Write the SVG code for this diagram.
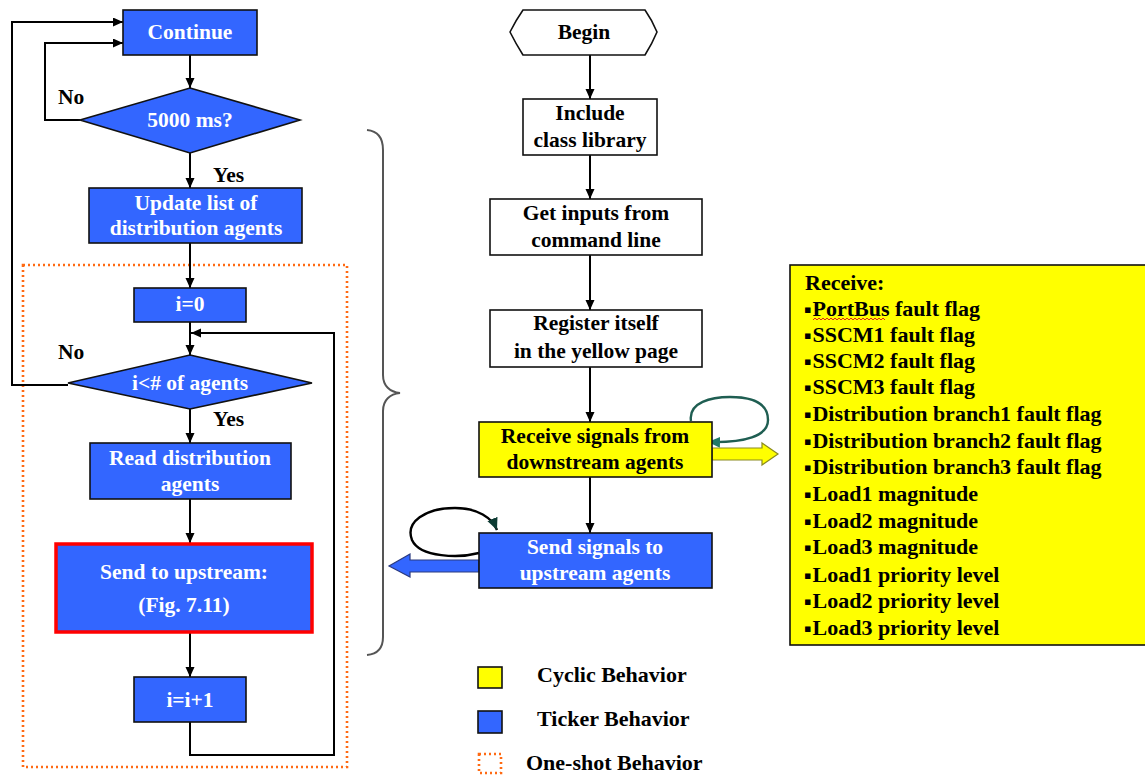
<svg xmlns="http://www.w3.org/2000/svg" width="1145" height="778" viewBox="0 0 1145 778">
  <defs>
    <style>
      .t { font-family: "Liberation Serif", "Times New Roman", serif; font-weight: bold; font-size: 21.5px; text-anchor: middle; fill: #000; }
      .tl { text-anchor: start; }
      .lg { font-size: 22px; }
      .w { fill: #fff; }
      .bul { font-family: "DejaVu Sans", sans-serif; font-size: 11px; }
      .blue { fill: #3366ff; stroke: #111; stroke-width: 1.6; }
      .plain { fill: #fff; stroke: #111; stroke-width: 1.6; }
      .yel { fill: #ffff00; stroke: #111; stroke-width: 1.6; }
      .ln { fill: none; stroke: #000; stroke-width: 2; }
      .dots { fill: none; stroke: #ff6a13; stroke-width: 2.6; stroke-dasharray: 2 3; }
    </style>
    <marker id="arr" markerUnits="userSpaceOnUse" markerWidth="11" markerHeight="10" refX="10" refY="4.5" orient="auto">
      <path d="M0,0 L10,4.5 L0,9 z" fill="#000"/>
    </marker>
    <marker id="arrTeal" markerUnits="userSpaceOnUse" markerWidth="14" markerHeight="12" refX="12" refY="5.5" orient="auto">
      <path d="M0,0 L12,5.5 L0,11 z" fill="#1f7a68"/>
    </marker>
    <marker id="arrDark" markerUnits="userSpaceOnUse" markerWidth="14" markerHeight="12" refX="12" refY="5.5" orient="auto">
      <path d="M0,0 L12,5.5 L0,11 z" fill="#0d3b33"/>
    </marker>
  </defs>

  <rect width="1145" height="778" fill="#fff"/>

  <!-- one-shot region -->
  <rect id="oneshot" class="dots" x="23" y="265" width="324" height="502"/>

  <!-- connectors -->
  <g id="connectors">
    <path class="ln" d="M190,55 V88" marker-end="url(#arr)"/>
    <path class="ln" d="M190,153 V188" marker-end="url(#arr)"/>
    <path class="ln" d="M190,243 V288" marker-end="url(#arr)"/>
    <path class="ln" d="M190,322 V355" marker-end="url(#arr)"/>
    <path class="ln" d="M190,409 V443" marker-end="url(#arr)"/>
    <path class="ln" d="M190,499 V543" marker-end="url(#arr)"/>
    <path class="ln" d="M190,633 V677" marker-end="url(#arr)"/>
    <path class="ln" d="M190,722 V755 H334 V333 H191" marker-end="url(#arr)"/>
    <path class="ln" d="M80,120 H45 V43 H123" marker-end="url(#arr)"/>
    <path class="ln" d="M68,385 H12 V22 H123" marker-end="url(#arr)"/>

    <path class="ln" d="M590,55 V99" marker-end="url(#arr)"/>
    <path class="ln" d="M590,155 V199" marker-end="url(#arr)"/>
    <path class="ln" d="M590,255 V310" marker-end="url(#arr)"/>
    <path class="ln" d="M590,367 V422" marker-end="url(#arr)"/>
    <path class="ln" d="M590,477 V533" marker-end="url(#arr)"/>

    <!-- cyclic self-loop -->
    <path d="M691,421 C688,402 712,397 730,397 C755,397 768,405 768,420 C768,436 745,443 708,442" fill="none" stroke="#1f5e52" stroke-width="2.4" marker-end="url(#arrTeal)"/>
    <!-- ticker self-loop -->
    <path d="M479,553 C460,558 420,558 412,540 C405,522 425,508 455,508 C478,508 492,518 497,530" fill="none" stroke="#000" stroke-width="2.4" marker-end="url(#arrDark)"/>

    <!-- output arrows -->
    <path d="M712,448 H762 V443 L778,454 L762,465 V460 H712 z" fill="#ffff00" stroke="#8a8a20" stroke-width="1.2"/>
    <path d="M479,560 H410 V554 L389,566 L410,577 V572 H479 z" fill="#3366ff" stroke="#2a3a80" stroke-width="1.2"/>
  </g>

  <!-- brace -->
  <path id="brace" d="M367,130 C378,131 383,138 383,150 V375 C383,386 390,392 400,393 C390,394 383,400 383,411 V637 C383,648 378,654 367,655" fill="none" stroke="#555" stroke-width="2"/>

  <!-- left flow -->
  <g id="n-continue">
    <rect class="blue" x="123" y="10" width="134" height="45"/>
    <text class="t w" x="190" y="39">Continue</text>
  </g>
  <g id="n-5000">
    <polygon class="blue" points="190,88 300,120 190,153 80,120"/>
    <text class="t w" x="190" y="127">5000 ms?</text>
  </g>
  <g id="n-update">
    <rect class="blue" x="89" y="188" width="213" height="55"/>
    <text class="t w" x="196" y="210">Update list of</text>
    <text class="t w" x="196" y="235">distribution agents</text>
  </g>
  <g id="n-i0">
    <rect class="blue" x="134" y="288" width="112" height="34"/>
    <text class="t w" x="190" y="311">i=0</text>
  </g>
  <g id="n-cond">
    <polygon class="blue" points="190,355 312,383 190,409 68,383"/>
    <text class="t w" x="190" y="390">i&lt;# of agents</text>
  </g>
  <g id="n-read">
    <rect class="blue" x="90" y="443" width="201" height="56"/>
    <text class="t w" x="190" y="465">Read distribution</text>
    <text class="t w" x="190" y="491">agents</text>
  </g>
  <g id="n-send">
    <rect x="56" y="544" width="256" height="88" fill="#3366ff" stroke="#ff0000" stroke-width="3.5"/>
    <text class="t w" x="184" y="579">Send to upstream:</text>
    <text class="t w" x="184" y="612">(Fig. 7.11)</text>
  </g>
  <g id="n-inc">
    <rect class="blue" x="134" y="677" width="112" height="45"/>
    <text class="t w" x="190" y="707">i=i+1</text>
  </g>

  <g id="labels">
    <text class="t tl" x="58" y="104">No</text>
    <text class="t tl" x="213" y="182">Yes</text>
    <text class="t tl" x="58" y="359">No</text>
    <text class="t tl" x="213" y="426">Yes</text>
  </g>

  <!-- right flow -->
  <g id="n-begin">
    <path class="plain" d="M523,10 H645 Q652,20 657,32 Q652,44 645,55 H523 Q516,44 510,32 Q516,20 523,10 z"/>
    <text class="t" x="584" y="39">Begin</text>
  </g>
  <g id="n-include">
    <rect class="plain" x="523" y="99" width="134" height="56"/>
    <text class="t" x="590" y="120">Include</text>
    <text class="t" x="590" y="147">class library</text>
  </g>
  <g id="n-inputs">
    <rect class="plain" x="490" y="199" width="212" height="56"/>
    <text class="t" x="596" y="220">Get inputs from</text>
    <text class="t" x="596" y="247">command line</text>
  </g>
  <g id="n-register">
    <rect class="plain" x="490" y="310" width="212" height="57"/>
    <text class="t" x="596" y="330">Register itself</text>
    <text class="t" x="596" y="358">in the yellow page</text>
  </g>
  <g id="n-receive">
    <rect class="yel" x="479" y="422" width="233" height="55"/>
    <text class="t" x="595" y="443">Receive signals from</text>
    <text class="t" x="595" y="469">downstream agents</text>
  </g>
  <g id="n-sendsig">
    <rect class="blue" x="479" y="533" width="233" height="55"/>
    <text class="t w" x="595" y="554">Send signals to</text>
    <text class="t w" x="595" y="580">upstream agents</text>
  </g>

  <!-- received data list -->
  <g id="n-list">
    <rect class="yel" x="790" y="265" width="360" height="380"/>
    <text class="t tl lg" x="805" y="290">Receive:</text>
    <text class="t tl lg" x="804" y="316"><tspan class="bul" dy="-3">▪</tspan><tspan dy="3" dx="1">PortBus fault flag</tspan></text>
    <text class="t tl lg" x="804" y="342"><tspan class="bul" dy="-3">▪</tspan><tspan dy="3" dx="1">SSCM1 fault flag</tspan></text>
    <text class="t tl lg" x="804" y="368"><tspan class="bul" dy="-3">▪</tspan><tspan dy="3" dx="1">SSCM2 fault flag</tspan></text>
    <text class="t tl lg" x="804" y="394"><tspan class="bul" dy="-3">▪</tspan><tspan dy="3" dx="1">SSCM3 fault flag</tspan></text>
    <text class="t tl lg" x="804" y="421"><tspan class="bul" dy="-3">▪</tspan><tspan dy="3" dx="1">Distribution branch1 fault flag</tspan></text>
    <text class="t tl lg" x="804" y="448"><tspan class="bul" dy="-3">▪</tspan><tspan dy="3" dx="1">Distribution branch2 fault flag</tspan></text>
    <text class="t tl lg" x="804" y="474"><tspan class="bul" dy="-3">▪</tspan><tspan dy="3" dx="1">Distribution branch3 fault flag</tspan></text>
    <text class="t tl lg" x="804" y="501"><tspan class="bul" dy="-3">▪</tspan><tspan dy="3" dx="1">Load1 magnitude</tspan></text>
    <text class="t tl lg" x="804" y="528"><tspan class="bul" dy="-3">▪</tspan><tspan dy="3" dx="1">Load2 magnitude</tspan></text>
    <text class="t tl lg" x="804" y="554"><tspan class="bul" dy="-3">▪</tspan><tspan dy="3" dx="1">Load3 magnitude</tspan></text>
    <text class="t tl lg" x="804" y="582"><tspan class="bul" dy="-3">▪</tspan><tspan dy="3" dx="1">Load1 priority level</tspan></text>
    <text class="t tl lg" x="804" y="608"><tspan class="bul" dy="-3">▪</tspan><tspan dy="3" dx="1">Load2 priority level</tspan></text>
    <text class="t tl lg" x="804" y="635"><tspan class="bul" dy="-3">▪</tspan><tspan dy="3" dx="1">Load3 priority level</tspan></text>
    <!-- spell-check squiggle -->
    <path d="M813,320 l2,-2 l2,2 l2,-2 l2,2 l2,-2 l2,2 l2,-2 l2,2 l2,-2 l2,2 l2,-2 l2,2 l2,-2 l2,2 l2,-2 l2,2 l2,-2 l2,2 l2,-2 l2,2 l2,-2 l2,2 l2,-2 l2,2 l2,-2 l2,2 l2,-2 l2,2 l2,-2 l2,2 l2,-2 l2,2 l2,-2 l2,2 l2,-2 l2,2" fill="none" stroke="#e02020" stroke-width="1"/>
  </g>

  <!-- legend -->
  <g id="legend">
    <rect class="yel" x="478" y="667" width="24" height="21"/>
    <text class="t tl lg" x="537" y="682">Cyclic Behavior</text>
    <rect class="blue" x="478" y="711" width="24" height="22"/>
    <text class="t tl lg" x="537" y="726">Ticker Behavior</text>
    <rect class="dots" x="479" y="754" width="22" height="19"/>
    <text class="t tl lg" x="526" y="770">One-shot Behavior</text>
  </g>
</svg>
